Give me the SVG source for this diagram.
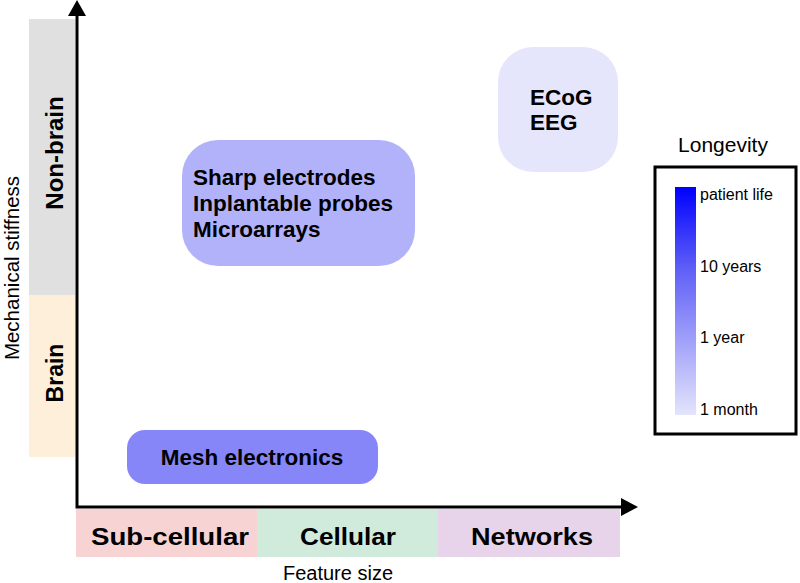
<svg xmlns="http://www.w3.org/2000/svg" width="800" height="583" viewBox="0 0 800 583">
<defs>
<linearGradient id="lg" x1="0" y1="0" x2="0" y2="1">
<stop offset="0" stop-color="#0000ff"/>
<stop offset="0.35" stop-color="#5d5df7"/>
<stop offset="0.7" stop-color="#a6a6fa"/>
<stop offset="1" stop-color="#e4e4fc"/>
</linearGradient>
</defs>
<style>
text{font-family:"Liberation Sans",Arial,sans-serif;fill:#000}
.b{font-weight:bold;font-size:22.5px}
.ax{fill:none;stroke:#000;stroke-width:3}
.lab{font-size:16px}
</style>
<rect width="800" height="583" fill="#fff"/>
<g id="stiffness-bands">
<rect x="29" y="19" width="46" height="276" fill="#e0e0e0"/>
<rect x="29" y="295" width="46" height="162" fill="#fdefd9"/>
<text class="b" transform="translate(63,153) rotate(-90)" text-anchor="middle" style="font-size:24px">Non-brain</text>
<text class="b" transform="translate(63,373) rotate(-90)" text-anchor="middle" style="font-size:23px">Brain</text>
<text transform="translate(18.5,268) rotate(-90)" text-anchor="middle" style="font-size:20.5px">Mechanical stiffness</text>
</g>
<g id="feature-bands">
<rect x="76" y="509" width="181" height="48" fill="#f8d3d3"/>
<rect x="257" y="509" width="181" height="48" fill="#d0ebdc"/>
<rect x="438" y="509" width="182" height="48" fill="#e8d4ea"/>
<text class="b" x="170" y="545" text-anchor="middle" textLength="158" lengthAdjust="spacingAndGlyphs" style="font-size:24px">Sub-cellular</text>
<text class="b" x="348" y="545" text-anchor="middle" textLength="96" lengthAdjust="spacingAndGlyphs" style="font-size:24px">Cellular</text>
<text class="b" x="532" y="545" text-anchor="middle" textLength="122" lengthAdjust="spacingAndGlyphs" style="font-size:24px">Networks</text>
<text x="338" y="580" text-anchor="middle" style="font-size:20px">Feature size</text>
</g>
<g id="connectors">
<path class="ax" d="M77,14 V507 H622"/>
<polygon points="77,0 68,16 86,16" fill="#000"/>
<polygon points="638,507 621,498 621,516" fill="#000"/>
</g>
<g id="node-sharp">
<rect x="182" y="140" width="233" height="126" rx="36" fill="#b2b2fb"/>
<text class="b" x="193" y="185">Sharp electrodes</text>
<text class="b" x="193" y="211">Inplantable probes</text>
<text class="b" x="193" y="237">Microarrays</text>
</g>
<g id="node-ecog">
<rect x="498" y="47" width="120" height="125" rx="35" fill="#e5e5fc"/>
<text class="b" x="530" y="105">ECoG</text>
<text class="b" x="530" y="130">EEG</text>
</g>
<g id="node-mesh">
<rect x="127" y="430" width="251" height="54" rx="18" fill="#8686f9"/>
<text class="b" x="252" y="465" text-anchor="middle">Mesh electronics</text>
</g>
<g id="legend">
<text x="723" y="152" text-anchor="middle" style="font-size:21px">Longevity</text>
<rect x="655" y="167" width="141" height="267" fill="#fff" stroke="#000" stroke-width="3"/>
<rect x="675" y="187" width="21" height="228" fill="url(#lg)"/>
<text class="lab" x="700" y="200">patient life</text>
<text class="lab" x="700" y="272">10 years</text>
<text class="lab" x="700" y="343">1 year</text>
<text class="lab" x="700" y="415">1 month</text>
</g>
</svg>
